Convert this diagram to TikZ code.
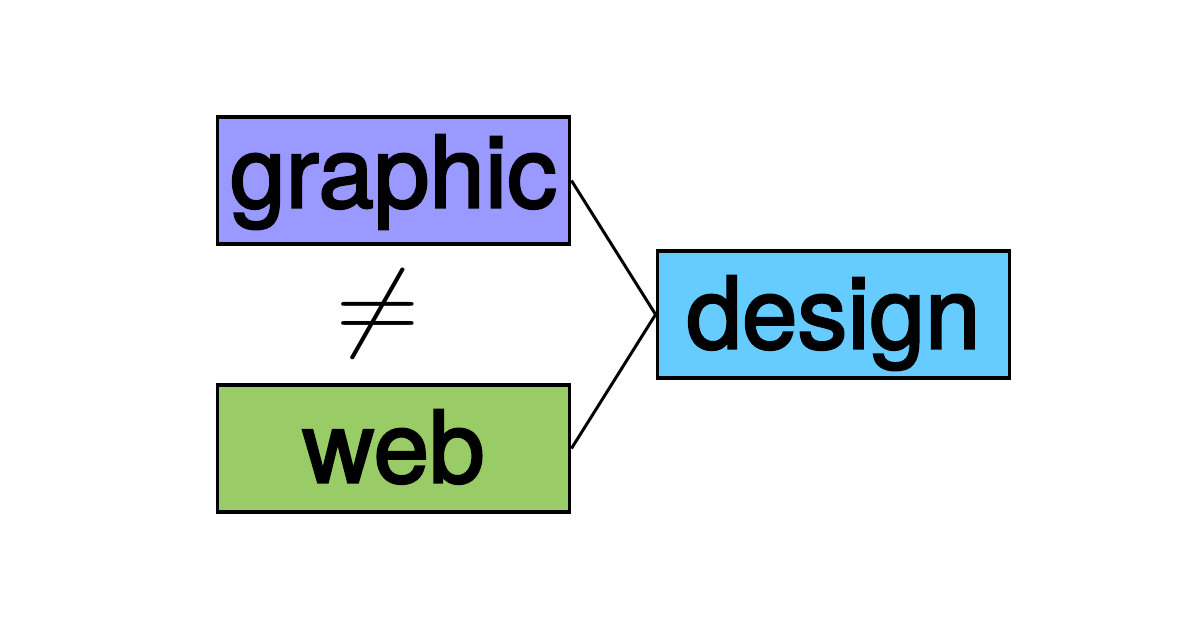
\documentclass[tikz,border=0pt]{standalone}
\usepackage{amsmath}
\usepackage{amssymb}
\usepackage{graphicx}
\usepackage[no-math]{fontspec}
\setmainfont{TeX Gyre Heros}
\newfontfamily\caixafont{TeX Gyre Heros}[FakeBold=2.4]
\usepackage{tikz}
\definecolor{lilas}{HTML}{9999FF}
\definecolor{verde}{HTML}{99CC66}
\definecolor{azul}{HTML}{66CCFF}

\begin{document}
\begin{tikzpicture}[grow=left, parent anchor=west, child anchor=east]
\tikzstyle{level 1}=[sibling distance=5.36cm, level distance=8.8cm]
\tikzstyle{caixa}=[rectangle, draw, line width=1.9pt, minimum width=7.05cm, minimum height=2.54cm, inner sep=0pt, text height=1.42cm, text depth=0.06cm, font=\caixafont\fontsize{56.8pt}{60pt}\selectfont]
\tikzstyle{arestas}=[draw, line width=1.7pt]
\useasboundingbox (0,0) rectangle (24,12.6);
 \node[caixa, fill=azul] (design) at (16.67,6.31) {design}
  child{
      node[caixa, fill=lilas, text depth=0.34cm] (graphic) {graphic}
  edge from parent[arestas]
  }
  child{
      node[caixa, fill=verde] (web) {web}
  edge from parent[arestas]
  };
 \node (diferente) at (7.56,6.33) {\scalebox{6.2}[5.6]{$\neq$}};
\end{tikzpicture}
\end{document}
